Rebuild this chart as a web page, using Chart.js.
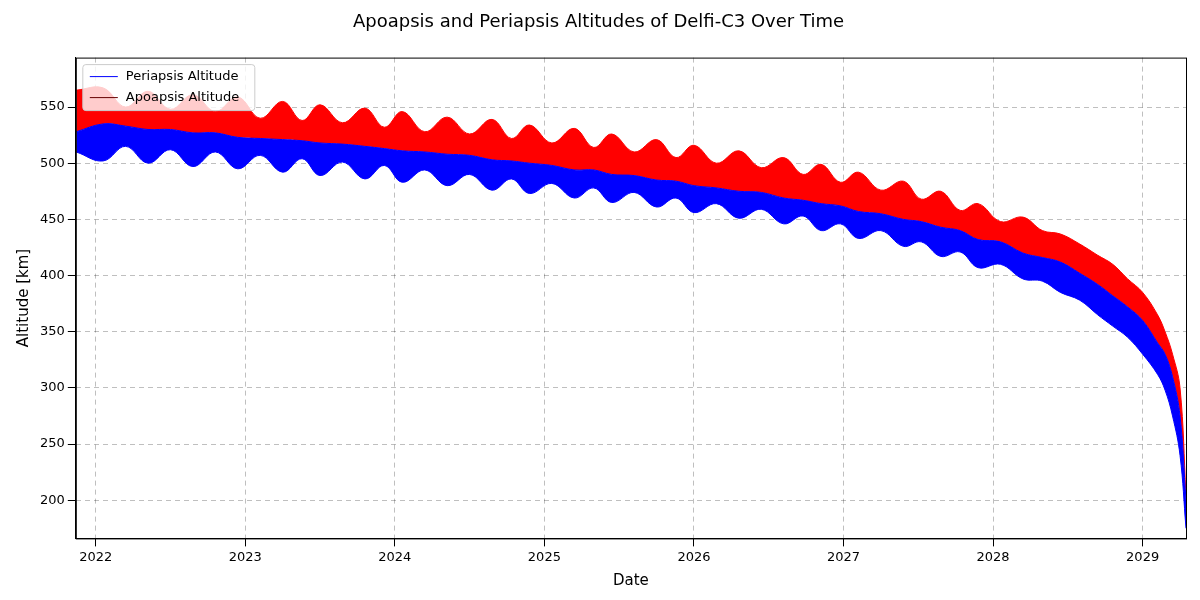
<!DOCTYPE html>
<html><head><meta charset="utf-8">
<script src="https://cdn.jsdelivr.net/npm/chart.js@4"></script>
<style>body{margin:0;background:#fff}#wrap{width:1200px;height:600px}</style>
</head><body><div id="wrap"><canvas id="c"></canvas></div>
<script>
// decimal years, envelopes
const years = [2021.87,2022.05,2022.2,2022.35,2022.5,2022.65,2022.8,2022.95,2023.1,2023.25,2023.38,2023.5,2023.65,2023.8,2023.93,2024.05,2024.2,2024.35,2024.5,2024.65,2024.78,2024.9,2025.05,2025.2,2025.33,2025.45,2025.6,2025.75,2025.88,2026.0,2026.15,2026.3,2026.45,2026.6,2026.73,2026.85,2026.98,2027.1,2027.25,2027.4,2027.52,2027.65,2027.78,2027.9,2028.05,2028.2,2028.33,2028.45,2028.58,2028.7,2028.8,2028.9,2029.0,2029.1,2029.15,2029.2,2029.25,2029.29];
const periLow = [510,502,515,500,512,497,510,495,507,492,504,489,501,486,498,483,494,480,490,476,486,473,482,469,478,465,474,461,469,456,464,451,459,446,453,440,446,433,440,426,430,417,421,407,410,397,395,385,378,365,355,345,330,312,298,275,240,175];
const periHigh = [528,535,533,530,530,527,527,523,522,521,520,518,517,515,513,511,510,508,507,503,502,500,498,494,494,490,489,485,484,480,478,475,474,469,467,464,462,457,455,450,448,443,440,432,430,420,416,412,402,392,382,372,360,340,330,310,275,200];
const apoHigh = [565,567,550,564,548,561,546,559,540,555,538,552,536,549,532,546,528,541,526,539,522,534,518,531,514,526,510,521,505,516,500,511,496,505,490,499,483,492,476,484,468,475,458,464,448,452,440,437,428,418,410,397,385,365,350,330,300,205];
const xTicks = [2022,2023,2024,2025,2026,2027,2028,2029];
const yTicks = [200,250,300,350,400,450,500,550];

const pts = arr => years.map((x, i) => ({x: x, y: arr[i]}));

// matplotlib-like frame and legend box
const frameLegend = {
  id: 'frameLegend',
  afterDraw(chart) {
    const {ctx, chartArea: a} = chart;
    ctx.save();
    ctx.strokeStyle = '#000'; ctx.lineWidth = 1;
    ctx.strokeRect(a.left + 0.5, a.top + 0.5, a.right - a.left, a.bottom - a.top);
    const x = a.left + 7, y = a.top + 7;
    ctx.fillStyle = 'rgba(255,255,255,0.8)';
    ctx.strokeStyle = '#ccc';
    ctx.beginPath(); ctx.roundRect(x, y, 172, 46, 3); ctx.fill(); ctx.stroke();
    const items = [['Periapsis Altitude', 'blue'], ['Apoapsis Altitude', '#600']];
    ctx.font = '13px "DejaVu Sans"'; ctx.textBaseline = 'middle';
    items.forEach(([t, c], i) => {
      const yy = y + 12 + i * 21;
      ctx.strokeStyle = c; ctx.beginPath(); ctx.moveTo(x + 7, yy); ctx.lineTo(x + 35, yy); ctx.stroke();
      ctx.fillStyle = '#000'; ctx.fillText(t, x + 43, yy);
    });
    ctx.restore();
  }
};

new Chart(document.getElementById('c'), {
  type: 'line',
  data: {
    datasets: [
      {label: 'pl', data: pts(periLow), borderColor: 'blue', borderWidth: 1, pointRadius: 0, tension: 0.4, fill: false},
      {label: 'Periapsis Altitude', data: pts(periHigh), borderColor: 'blue', backgroundColor: 'blue', borderWidth: 1, pointRadius: 0, tension: 0.4, fill: '-1'},
      {label: 'Apoapsis Altitude', data: pts(apoHigh), borderColor: 'red', backgroundColor: 'red', borderWidth: 1, pointRadius: 0, tension: 0.4, fill: '-1'}
    ]
  },
  plugins: [frameLegend],
  options: {
    responsive: true, maintainAspectRatio: false, animation: false,
    layout: {padding: {left: 11, right: 14, top: 0, bottom: 6}},
    plugins: {
      title: {display: true, text: 'Apoapsis and Periapsis Altitudes of Delfi-C3 Over Time', color: '#000', font: {family: 'DejaVu Sans', size: 18, weight: 'normal'}, padding: {top: 12, bottom: 24}},
      legend: {display: false},
      tooltip: {enabled: false}
    },
    scales: {
      x: {
        type: 'linear', min: 2021.867, max: 2029.29,
        afterBuildTicks: a => { a.ticks = xTicks.map(v => ({value: v})); },
        ticks: {callback: v => String(v), color: '#000', font: {family: 'DejaVu Sans', size: 13}},
        grid: {color: 'rgba(0,0,0,0.25)', tickColor: '#000'},
        border: {color: '#000', dash: [5, 4]},
        title: {display: true, text: 'Date', color: '#000', font: {family: 'DejaVu Sans', size: 15}}
      },
      y: {
        min: 166, max: 594,
        afterBuildTicks: a => { a.ticks = yTicks.map(v => ({value: v})); },
        ticks: {color: '#000', font: {family: 'DejaVu Sans', size: 13}},
        grid: {color: 'rgba(0,0,0,0.25)', tickColor: '#000'},
        border: {color: '#000', dash: [5, 4]},
        title: {display: true, text: 'Altitude [km]', color: '#000', font: {family: 'DejaVu Sans', size: 15}}
      }
    }
  }
});
</script></body></html>
